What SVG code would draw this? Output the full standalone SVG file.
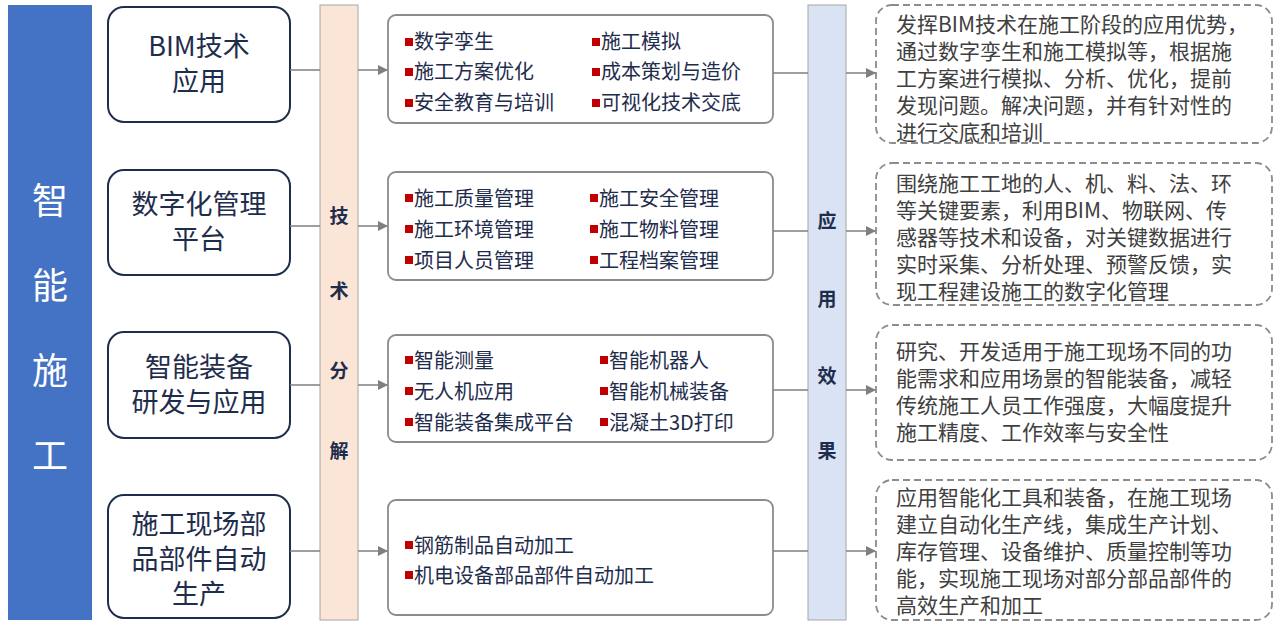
<svg xmlns="http://www.w3.org/2000/svg" width="1280" height="639" viewBox="0 0 1280 639">
<defs>
<marker id="ar" markerWidth="10" markerHeight="10" refX="9" refY="5" orient="auto" markerUnits="userSpaceOnUse"><path d="M0,0 L10,5 L0,10 z" fill="#7f7f7f"/></marker>
</defs>
<style>
text{font-family:"Noto Sans CJK SC","Microsoft YaHei",sans-serif}
.cat{fill:#fff;stroke:#1f2d4d;stroke-width:2}
.cat-t{font-size:27px;fill:#1f2d4d;text-anchor:middle}
.mid{fill:#fff;stroke:#8c8c8c;stroke-width:1.8}
.it{font-size:20px;fill:#1f2d4d}
.b{fill:#c00000}
.eff{fill:#fff;stroke:#8c8c8c;stroke-width:1.8;stroke-dasharray:7 4}
.et{font-size:21px;fill:#404040}
.col-t{font-size:19px;font-weight:bold;fill:#1f2d4d;text-anchor:middle}
.ln{stroke:#7f7f7f;stroke-width:1.5;fill:none}
</style>
<rect width="1280" height="639" fill="#fff"/>
<g id="main"><rect x="8" y="5" width="84" height="615" fill="#4472c4"/>
<g font-size="36" fill="#fff" text-anchor="middle"><text x="50" y="214">智</text><text x="50" y="299">能</text><text x="50" y="384">施</text><text x="50" y="469">工</text></g></g>
<g id="tech"><rect x="320" y="5" width="38" height="615" fill="#fbe5d6" stroke="#a6a6a6"/>
<text class="col-t" x="339" y="223">技</text><text class="col-t" x="339" y="298">术</text><text class="col-t" x="339" y="378">分</text><text class="col-t" x="339" y="458">解</text></g>
<g id="effect"><rect x="808" y="5" width="38" height="615" fill="#dae3f3" stroke="#a6a6a6"/>
<text class="col-t" x="827" y="228">应</text><text class="col-t" x="827" y="306">用</text><text class="col-t" x="827" y="383">效</text><text class="col-t" x="827" y="458">果</text></g>

<g id="c1"><rect class="cat" x="108" y="7" width="182" height="115" rx="16"/><text class="cat-t" x="199" y="56">BIM技术</text><text class="cat-t" x="199" y="91">应用</text></g>
<g id="c2"><rect class="cat" x="108" y="170" width="182" height="105" rx="16"/><text class="cat-t" x="199" y="214">数字化管理</text><text class="cat-t" x="199" y="249">平台</text></g>
<g id="c3"><rect class="cat" x="108" y="332" width="182" height="106" rx="16"/><text class="cat-t" x="199" y="377">智能装备</text><text class="cat-t" x="199" y="412">研发与应用</text></g>
<g id="c4"><rect class="cat" x="108" y="495" width="182" height="123" rx="16"/><text class="cat-t" x="199" y="534">施工现场部</text><text class="cat-t" x="199" y="569">品部件自动</text><text class="cat-t" x="199" y="604">生产</text></g>

<g id="m1"><rect class="mid" x="388" y="15" width="385" height="108" rx="8"/>
<rect class="b" x="405" y="38" width="8" height="8"/><text class="it" x="414" y="49">数字孪生</text>
<rect class="b" x="592" y="38" width="8" height="8"/><text class="it" x="601" y="49">施工模拟</text>
<rect class="b" x="405" y="68" width="8" height="8"/><text class="it" x="414" y="79">施工方案优化</text>
<rect class="b" x="592" y="68" width="8" height="8"/><text class="it" x="601" y="79">成本策划与造价</text>
<rect class="b" x="405" y="99" width="8" height="8"/><text class="it" x="414" y="110">安全教育与培训</text>
<rect class="b" x="592" y="99" width="8" height="8"/><text class="it" x="601" y="110">可视化技术交底</text></g>
<g id="m2"><rect class="mid" x="388" y="172" width="385" height="108" rx="8"/>
<rect class="b" x="405" y="194" width="8" height="8"/><text class="it" x="414" y="206">施工质量管理</text>
<rect class="b" x="590" y="194" width="8" height="8"/><text class="it" x="599" y="206">施工安全管理</text>
<rect class="b" x="405" y="225" width="8" height="8"/><text class="it" x="414" y="237">施工环境管理</text>
<rect class="b" x="590" y="225" width="8" height="8"/><text class="it" x="599" y="237">施工物料管理</text>
<rect class="b" x="405" y="256" width="8" height="8"/><text class="it" x="414" y="268">项目人员管理</text>
<rect class="b" x="590" y="256" width="8" height="8"/><text class="it" x="599" y="268">工程档案管理</text></g>
<g id="m3"><rect class="mid" x="388" y="335" width="385" height="107" rx="8"/>
<rect class="b" x="405" y="356" width="8" height="8"/><text class="it" x="414" y="368">智能测量</text>
<rect class="b" x="600" y="356" width="8" height="8"/><text class="it" x="609" y="368">智能机器人</text>
<rect class="b" x="405" y="387" width="8" height="8"/><text class="it" x="414" y="399">无人机应用</text>
<rect class="b" x="600" y="387" width="8" height="8"/><text class="it" x="609" y="399">智能机械装备</text>
<rect class="b" x="405" y="418" width="8" height="8"/><text class="it" x="414" y="430">智能装备集成平台</text>
<rect class="b" x="600" y="418" width="8" height="8"/><text class="it" x="609" y="430">混凝土3D打印</text></g>
<g id="m4"><rect class="mid" x="388" y="500" width="385" height="115" rx="8"/>
<rect class="b" x="405" y="541" width="8" height="8"/><text class="it" x="414" y="553">钢筋制品自动加工</text>
<rect class="b" x="405" y="571" width="8" height="8"/><text class="it" x="414" y="583">机电设备部品部件自动加工</text></g>

<g id="e1"><rect class="eff" x="876" y="5" width="396" height="138" rx="16"/>
<text class="et" x="896" y="32">发挥BIM技术在施工阶段的应用优势，</text><text class="et" x="896" y="59">通过数字孪生和施工模拟等，根据施</text><text class="et" x="896" y="86">工方案进行模拟、分析、优化，提前</text><text class="et" x="896" y="113">发现问题。解决问题，并有针对性的</text><text class="et" x="896" y="140">进行交底和培训</text></g>
<g id="e2"><rect class="eff" x="876" y="163" width="396" height="142" rx="16"/>
<text class="et" x="896" y="191">围绕施工工地的人、机、料、法、环</text><text class="et" x="896" y="218">等关键要素，利用BIM、物联网、传</text><text class="et" x="896" y="245">感器等技术和设备，对关键数据进行</text><text class="et" x="896" y="272">实时采集、分析处理、预警反馈，实</text><text class="et" x="896" y="299">现工程建设施工的数字化管理</text></g>
<g id="e3"><rect class="eff" x="876" y="325" width="396" height="135" rx="16"/>
<text class="et" x="896" y="359">研究、开发适用于施工现场不同的功</text><text class="et" x="896" y="386">能需求和应用场景的智能装备，减轻</text><text class="et" x="896" y="413">传统施工人员工作强度，大幅度提升</text><text class="et" x="896" y="440">施工精度、工作效率与安全性</text></g>
<g id="e4"><rect class="eff" x="876" y="480" width="396" height="140" rx="16"/>
<text class="et" x="896" y="505">应用智能化工具和装备，在施工现场</text><text class="et" x="896" y="532">建立自动化生产线，集成生产计划、</text><text class="et" x="896" y="559">库存管理、设备维护、质量控制等功</text><text class="et" x="896" y="586">能，实现施工现场对部分部品部件的</text><text class="et" x="896" y="613">高效生产和加工</text></g>

<g id="connectors">
<line class="ln" x1="290" y1="70" x2="320" y2="70"/><line class="ln" x1="358" y1="70" x2="387" y2="70" marker-end="url(#ar)"/>
<line class="ln" x1="773" y1="73" x2="808" y2="73"/><line class="ln" x1="846" y1="73" x2="875" y2="73" marker-end="url(#ar)"/>
<line class="ln" x1="290" y1="226" x2="320" y2="226"/><line class="ln" x1="358" y1="226" x2="387" y2="226" marker-end="url(#ar)"/>
<line class="ln" x1="773" y1="231" x2="808" y2="231"/><line class="ln" x1="846" y1="231" x2="875" y2="231" marker-end="url(#ar)"/>
<line class="ln" x1="290" y1="385" x2="320" y2="385"/><line class="ln" x1="358" y1="385" x2="387" y2="385" marker-end="url(#ar)"/>
<line class="ln" x1="773" y1="390" x2="808" y2="390"/><line class="ln" x1="846" y1="390" x2="875" y2="390" marker-end="url(#ar)"/>
<line class="ln" x1="290" y1="551" x2="320" y2="551"/><line class="ln" x1="358" y1="551" x2="387" y2="551" marker-end="url(#ar)"/>
<line class="ln" x1="773" y1="551" x2="808" y2="551"/><line class="ln" x1="846" y1="551" x2="875" y2="551" marker-end="url(#ar)"/>
</g>
</svg>
